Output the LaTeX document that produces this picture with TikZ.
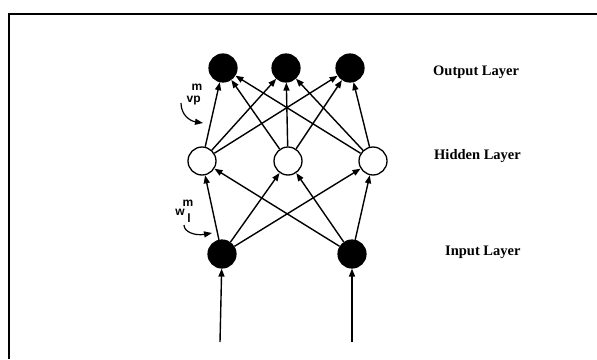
\documentclass[tikz,border=0pt]{standalone}
\usepackage{fontspec}
\setmainfont{Liberation Serif}
\newfontfamily\lblsans{Liberation Sans}
\usetikzlibrary{arrows.meta}
\begin{document}
\begin{tikzpicture}[x=1pt,y=-1pt,
  filled/.style={circle,fill=black,draw=black,line width=1.2pt,minimum size=28pt,inner sep=0pt},
  hollow/.style={circle,fill=white,draw=black,line width=1.3pt,minimum size=28pt,inner sep=0pt},
  conn/.style={line width=1.4pt,-{Triangle[length=8pt,width=6pt]}},
  layerlbl/.style={font=\bfseries\fontsize{14.5}{16}\selectfont,anchor=west,inner sep=0pt},
  wlbl/.style={font=\lblsans\bfseries\fontsize{12}{13}\selectfont,inner sep=0pt}]
\useasboundingbox (0,0) rectangle (597,359);
\draw[line width=1.2pt] (597,14) -- (9,14) -- (9,359);
% nodes
\node[filled] (o1) at (223,68) {};
\node[filled] (o2) at (286,68) {};
\node[filled] (o3) at (350,68) {};
\node[hollow] (h1) at (202,161) {};
\node[hollow] (h2) at (288,161) {};
\node[hollow] (h3) at (373,161) {};
\node[filled] (i1) at (222,254) {};
\node[filled] (i2) at (352,254) {};
% inputs
\coordinate (s1) at (220,342);
\coordinate (s2) at (352,342);
\draw[conn] (s1) -- (i1);
\draw[conn] (s2) -- (i2);
% input -> hidden
\foreach \i in {i1,i2}
  \foreach \h in {h1,h2,h3}
    \draw[conn] (\i) -- (\h);
% hidden -> output
\foreach \h in {h1,h2,h3}
  \foreach \o in {o1,o2,o3}
    \draw[conn] (\h) -- (\o);
% layer labels
\node[layerlbl] (lo) at (433,72) {Output Layer};
\node[layerlbl] (lh) at (434,156) {Hidden Layer};
\node[layerlbl] (li) at (445,252) {Input Layer};
% weight labels
\node[wlbl] (vv) at (190,99) {v};
\node[wlbl] (vm) at (197,87) {m};
\node[wlbl] (vp) at (197,101) {p};
\coordinate (va) at (181,103);
\coordinate (vb) at (203,123);
\draw[line width=1.2pt,-{Triangle[length=8pt,width=6pt]}] (va) .. controls (181,115) and (190,121) .. (vb);
\node[wlbl] (ww) at (180,212) {w};
\node[wlbl] (wm) at (188,203) {m};
\node[wlbl] (wl) at (189,218) {l};
\coordinate (wa) at (184,225);
\coordinate (wb) at (212,233);
\draw[line width=1.2pt,-{Triangle[length=8pt,width=6pt]}] (wa) .. controls (184,232) and (195,236) .. (wb);
\end{tikzpicture}
\end{document}
